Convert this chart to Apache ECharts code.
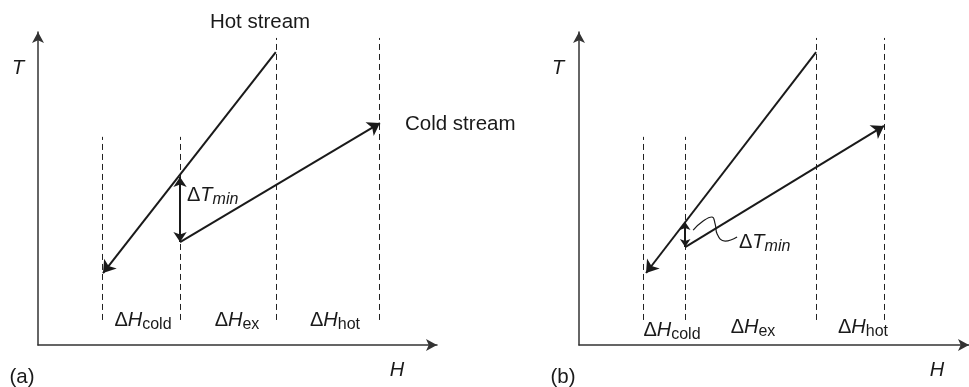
<!DOCTYPE html>
<html>
<head>
<meta charset="utf-8">
<script src="https://cdn.jsdelivr.net/npm/echarts@6/dist/echarts.min.js"></script>
<style>html,body{margin:0;padding:0;background:#fff;}#c{width:969px;height:387px;}</style>
</head>
<body>
<div id="c"></div>
<script>
// ---------- data (H and T in relative units) ----------
// Panel (a)
const hotA = [[59.6, 93.6], [16.3, 23.0]];        // hot stream: hot end -> cold end (arrow)
const coldA = [[35.6, 32.9], [85.7, 70.9]];       // cold stream: inlet -> outlet (arrow)
const dTminA = [[35.6, 53.7], [35.6, 32.9]];      // ΔTmin double arrow
const dashXA = [16.0, 35.6, 59.6, 85.5];          // boundaries of ΔH zones
const dashTopA = [66.5, 66.5, 98.1, 98.1];
// Panel (b)
const hotB = [[59.4, 93.6], [16.8, 23.0]];
const coldB = [[26.6, 31.3], [76.4, 70.0]];
const dTminB = [[26.6, 39.3], [26.6, 31.3]];
const dashXB = [16.0, 26.6, 59.4, 76.4];
const dashTopB = [66.5, 66.5, 98.1, 98.1];
const leaderB = [[28.6, 36.7], [31.1, 39.6], [33.3, 40.9], [34.1, 38.7], [34.6, 35.5], [36.6, 33.2], [39.6, 34.5]];
const dashBottom = 8.0;
const zoneLabels = ['cold', 'ex', 'hot'];
const axisMaxA = 100, axisMaxB = 97.7, axisMaxT = 100; // panel (b) H axis is cut by the page edge

// ---------- styling ----------
const FONT = '"Liberation Sans", Arial, Helvetica, sans-serif';
const INK = '#1a1a1a';
const AXC = '#333';

function axis(gridIndex, max) {
  return {
    type: 'value', gridIndex, min: 0, max: max,
    axisLine: { show: true, onZero: false, symbol: ['none', 'arrow'], symbolSize: [9, 11],
      lineStyle: { color: AXC, width: 1.5 } },
    axisTick: { show: false }, axisLabel: { show: false }, splitLine: { show: false }
  };
}

function streamSeries(gi, coords, symbols, size, width) {
  return {
    type: 'lines', coordinateSystem: 'cartesian2d', xAxisIndex: gi, yAxisIndex: gi,
    symbol: symbols, symbolSize: size, silent: true, z: 5,
    lineStyle: { color: INK, width: width, opacity: 1 },
    data: [{ coords: coords }]
  };
}

function dashSeries(gi, xs, tops) {
  return {
    type: 'lines', coordinateSystem: 'cartesian2d', xAxisIndex: gi, yAxisIndex: gi,
    symbol: ['none', 'none'], silent: true, z: 3,
    lineStyle: { color: '#222', width: 1, type: [6, 4], opacity: 1 },
    data: xs.map((x, i) => ({ coords: [[x, dashBottom], [x, tops[i]]] }))
  };
}

const richBase = {
  n: { fontSize: 20, fontFamily: FONT, color: INK, verticalAlign: 'middle', lineHeight: 25 },
  i: { fontSize: 20, fontFamily: FONT, color: INK, fontStyle: 'italic', verticalAlign: 'middle', lineHeight: 25 },
  s: { fontSize: 16, fontFamily: FONT, color: INK, verticalAlign: 'bottom', lineHeight: 25 },
  si: { fontSize: 16, fontFamily: FONT, color: INK, fontStyle: 'italic', verticalAlign: 'bottom', lineHeight: 25 }
};

function txt(x, y, text, align, extra) {
  return {
    type: 'text', x: x, y: y, silent: true, z: 10,
    style: Object.assign({
      text: text, fill: INK, font: '20.5px ' + FONT,
      textAlign: align || 'center', textVerticalAlign: 'middle', rich: richBase
    }, extra || {})
  };
}

const graphics = [
  txt(260, 22, 'Hot stream'),
  txt(405, 124, 'Cold stream', 'left'),
  txt(18, 68, '{i|T}'),
  txt(558, 68, '{i|T}'),
  txt(397, 370, '{i|H}'),
  txt(937, 370, '{i|H}'),
  txt(22, 377, '(a)'),
  txt(563, 377, '(b)'),
  txt(187, 195, '{n|Δ}{i|T}{si|min}', 'left'),
  txt(739, 242, '{n|Δ}{i|T}{si|min}', 'left'),
  txt(143, 320, '{n|Δ}{i|H}{s|' + zoneLabels[0] + '}'),
  txt(237, 320, '{n|Δ}{i|H}{s|' + zoneLabels[1] + '}'),
  txt(335, 320, '{n|Δ}{i|H}{s|' + zoneLabels[2] + '}'),
  txt(672, 330, '{n|Δ}{i|H}{s|' + zoneLabels[0] + '}'),
  txt(753, 327, '{n|Δ}{i|H}{s|' + zoneLabels[1] + '}'),
  txt(863, 327, '{n|Δ}{i|H}{s|' + zoneLabels[2] + '}')
];

const chart = echarts.init(document.getElementById('c'), null, { renderer: 'canvas' });
chart.setOption({
  animation: false,
  backgroundColor: '#fff',
  grid: [
    { left: 38, top: 32, width: 399, height: 313 },
    { left: 579, top: 32, width: 390, height: 313 }
  ],
  xAxis: [axis(0, axisMaxA), axis(1, axisMaxB)],
  yAxis: [axis(0, axisMaxT), axis(1, axisMaxT)],
  series: [
    dashSeries(0, dashXA, dashTopA),
    streamSeries(0, hotA, ['none', 'arrow'], 12, 2),
    streamSeries(0, coldA, ['none', 'arrow'], 12, 2),
    streamSeries(0, dTminA, ['arrow', 'arrow'], 10, 2),
    dashSeries(1, dashXB, dashTopB),
    streamSeries(1, hotB, ['none', 'arrow'], 12, 2),
    streamSeries(1, coldB, ['none', 'arrow'], 12, 2),
    streamSeries(1, dTminB, ['arrow', 'arrow'], 8, 2),
    {
      type: 'line', xAxisIndex: 1, yAxisIndex: 1, data: leaderB, smooth: 0.5,
      showSymbol: false, silent: true, lineStyle: { color: INK, width: 1.2 }, z: 4
    }
  ],
  graphic: graphics
});
</script>
</body>
</html>
